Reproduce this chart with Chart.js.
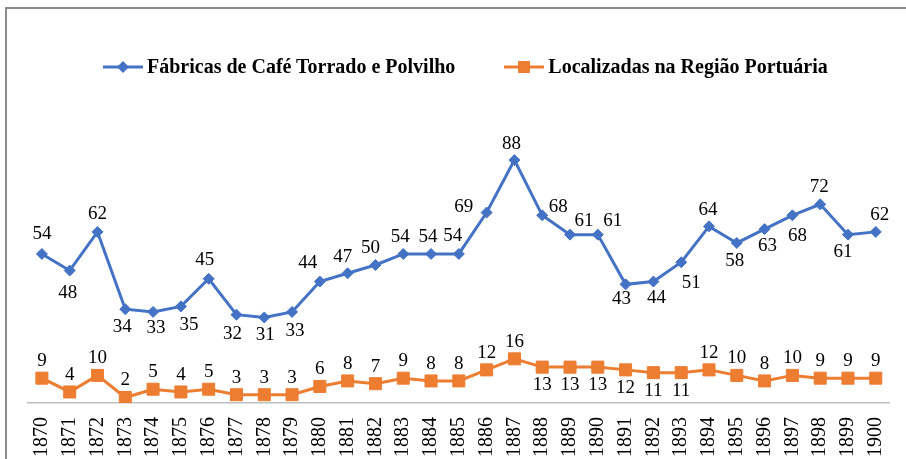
<!DOCTYPE html>
<html>
<head>
<meta charset="utf-8">
<script src="https://cdn.jsdelivr.net/npm/chart.js@4"></script>
<style>
    html, body { margin: 0; padding: 0; background: #fff; }
    #wrap { position: relative; width: 906px; height: 459px; overflow: hidden; }
    #frame { position: absolute; left: 5px; top: 7px; width: 1000px; height: 600px;
             border-top: 2px solid #8c8c8c; border-left: 2px solid #8c8c8c; }
    #chart { position: absolute; left: 0; top: 0; }
    #legend { position: absolute; left: 103px; top: 55px; display: flex; align-items: center;
              font-family: "Liberation Serif", "Times New Roman", serif; font-weight: bold;
              font-size: 20px; color: #000; white-space: nowrap; }
    .item { display: flex; align-items: center; }
    .item svg { margin-right: 4px; }
    .item + .item { margin-left: 49px; }
</style>
</head>
<body>
<div id="wrap">
    <div id="frame"></div>
    <canvas id="chart" width="906" height="459"></canvas>
    <div id="legend"></div>
</div>
<script>
const years = ["1870", "1871", "1872", "1873", "1874", "1875", "1876", "1877", "1878", "1879",
               "1880", "1881", "1882", "1883", "1884", "1885", "1886", "1887", "1888", "1889",
               "1890", "1891", "1892", "1893", "1894", "1895", "1896", "1897", "1898", "1899", "1900"];

const fabricas = [54, 48, 62, 34, 33, 35, 45, 32, 31, 33,
                  44, 47, 50, 54, 54, 54, 69, 88, 68, 61,
                  61, 43, 44, 51, 64, 58, 63, 68, 72, 61, 62];

const portuaria = [9, 4, 10, 2, 5, 4, 5, 3, 3, 3,
                   6, 8, 7, 9, 8, 8, 12, 16, 13, 13,
                   13, 12, 11, 11, 12, 10, 8, 10, 9, 9, 9];

const seriesNames = ["Fábricas de Café Torrado e Polvilho", "Localizadas na Região Portuária"];
const seriesColors = ["#4472C4", "#ED7D31"];

// where each value label sits relative to its point (dx, dy in px)
const fabricasLabelPos = [
    [0, -20], [-2, 22], [0, -18], [-3, 18], [3, 16], [8, 19], [-4, -19], [-4, 19], [1, 18], [3, 19],
    [-12, -19], [-5, -16], [-5, -17], [-3, -17], [-3, -17], [-6, -18], [-23, -6], [-3, -16], [16, -8], [14, -14],
    [15, -14], [-4, 15], [3, 16], [10, 21], [-1, -16], [-2, 18], [3, 17], [5, 21], [-1, -17], [-5, 17], [4, -17]
];
// orange labels: above except the 1888-1893 stretch
const portuariaLabelBelow = [18, 19, 20, 21, 22, 23];

// value labels (no datalabels plugin available offline)
const valueLabels = {
    id: 'valueLabels',
    afterDatasetsDraw(chart) {
        const ctx = chart.ctx;
        ctx.save();
        ctx.font = '19px "Liberation Serif", "Times New Roman", serif';
        ctx.fillStyle = '#000';
        ctx.textAlign = 'center';
        ctx.textBaseline = 'middle';
        chart.data.datasets.forEach((ds, i) => {
            const meta = chart.getDatasetMeta(i);
            meta.data.forEach((pt, j) => {
                let dx = 0, dy = -17;
                if (i === 0) {
                    dx = fabricasLabelPos[j][0];
                    dy = fabricasLabelPos[j][1];
                } else if (portuariaLabelBelow.includes(j)) {
                    dy = 18;
                }
                ctx.fillText(String(ds.data[j]), pt.x + dx, pt.y + dy);
            });
        });
        ctx.restore();
    }
};

function buildLegend() {
    const marks = [
        '<polygon points="20,4 26,10 20,16 14,10" fill="' + seriesColors[0] + '"/>',
        '<rect x="14" y="4" width="12" height="12" fill="' + seriesColors[1] + '"/>'
    ];
    document.getElementById('legend').innerHTML = seriesNames.map((name, i) =>
        `<span class="item"><svg width="40" height="20">
            <line x1="0" y1="10" x2="40" y2="10" stroke="${seriesColors[i]}" stroke-width="3"/>
            ${marks[i]}</svg>${name}</span>`).join('');
}

buildLegend();

new Chart(document.getElementById('chart'), {
    type: 'line',
    data: {
        labels: years,
        datasets: [
            {
                label: seriesNames[0],
                data: fabricas,
                borderColor: seriesColors[0],
                backgroundColor: seriesColors[0],
                borderWidth: 3,
                pointStyle: 'rectRot',
                pointRadius: 5.5,
                pointBorderWidth: 1,
                tension: 0,
            },
            {
                label: seriesNames[1],
                data: portuaria,
                borderColor: seriesColors[1],
                backgroundColor: seriesColors[1],
                borderWidth: 3,
                pointStyle: 'rect',
                pointRadius: 8.5,
                pointBorderWidth: 1,
                tension: 0,
            },
        ],
    },
    options: {
        responsive: false,
        animation: false,
        layout: { padding: { left: 28, right: 14, top: 127, bottom: 0 } },
        plugins: {
            legend: { display: false },
            tooltip: { enabled: false },
        },
        scales: {
            x: {
                offset: true,
                grid: { display: false },
                border: { color: '#bfbfbf', width: 1.5 },
                ticks: {
                    color: '#000',
                    font: { family: '"Liberation Serif", "Times New Roman", serif', size: 20 },
                    minRotation: 90,
                    maxRotation: 90,
                    autoSkip: false,
                    padding: 6,
                },
                afterFit(scale) { scale.height = 56; },
            },
            y: {
                display: false,
                min: 0,
                max: 100,
            },
        },
    },
    plugins: [valueLabels],
});
</script>
</body>
</html>
